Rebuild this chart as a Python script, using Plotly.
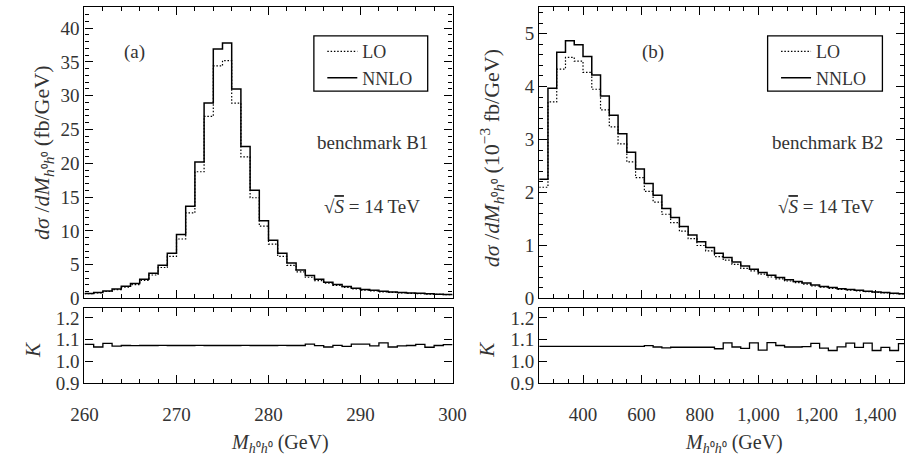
import plotly.graph_objects as go

# ---- panel (a): benchmark B1, 1 GeV bins from 260 to 300 GeV ----
a_edges = list(range(260, 301, 1))
a_nnlo = [0.75, 0.88, 1.11, 1.40, 1.79, 2.22, 2.85, 3.72, 4.92, 6.70,
          9.45, 13.65, 20.2, 28.9, 36.9, 37.8, 31.0, 22.5, 16.0, 11.5,
          8.63, 6.70, 5.26, 4.20, 3.38, 2.83, 2.40, 2.06, 1.77, 1.53,
          1.33, 1.20, 1.06, 0.97, 0.88, 0.82, 0.76, 0.69, 0.64, 0.59]
a_lo = [0.70, 0.83, 1.03, 1.30, 1.66, 2.06, 2.66, 3.47, 4.58, 6.23,
        8.80, 12.65, 18.75, 26.95, 34.4, 35.2, 28.9, 20.95, 14.9, 10.7,
        8.05, 6.24, 4.90, 3.92, 3.14, 2.63, 2.25, 1.92, 1.65, 1.42,
        1.24, 1.12, 0.99, 0.90, 0.82, 0.76, 0.71, 0.64, 0.60, 0.55]
a_k = [1.078, 1.066, 1.083, 1.070, 1.073, 1.072, 1.073, 1.073, 1.074, 1.073,
       1.073, 1.073, 1.074, 1.073, 1.073, 1.073, 1.073, 1.074, 1.073, 1.073,
       1.073, 1.074, 1.073, 1.073, 1.079, 1.072, 1.066, 1.074, 1.069, 1.079,
       1.079, 1.071, 1.085, 1.066, 1.071, 1.073, 1.078, 1.065, 1.073, 1.077]

# ---- panel (b): benchmark B2, 30 GeV bins starting at 250 GeV ----
b_edges = list(range(250, 1511, 30))
b_nnlo = [2.25, 3.97, 4.65, 4.865, 4.79, 4.57, 4.22, 3.82, 3.46, 3.11,
          2.76, 2.445, 2.17, 1.95, 1.70, 1.53, 1.36, 1.20, 1.07, 0.96,
          0.855, 0.775, 0.69, 0.615, 0.55, 0.49, 0.44, 0.395, 0.355, 0.32,
          0.29, 0.255, 0.228, 0.205, 0.185, 0.17, 0.155, 0.138, 0.124, 0.112,
          0.10, 0.09]
b_lo = [2.10, 3.71, 4.33, 4.55, 4.48, 4.27, 3.95, 3.56, 3.24, 2.92,
        2.58, 2.28, 2.02, 1.82, 1.59, 1.43, 1.27, 1.13, 1.00, 0.90,
        0.79, 0.725, 0.645, 0.57, 0.52, 0.46, 0.405, 0.37, 0.33, 0.30,
        0.27, 0.235, 0.213, 0.19, 0.172, 0.157, 0.144, 0.128, 0.115, 0.104,
        0.093, 0.084]
b_k = [1.069, 1.069, 1.069, 1.069, 1.069, 1.069, 1.069, 1.069, 1.069, 1.069,
       1.069, 1.069, 1.072, 1.066, 1.062, 1.065, 1.065, 1.065, 1.065, 1.065,
       1.058, 1.085, 1.066, 1.060, 1.085, 1.052, 1.086, 1.073, 1.066, 1.066,
       1.068, 1.083, 1.061, 1.050, 1.067, 1.084, 1.064, 1.084, 1.050, 1.064,
       1.050, 1.082]

W, H = 919, 465
FONT = "Liberation Serif"
TXT = "#333333"


def px(x):
    return x / W


def py(y):
    return 1 - y / H


def step(edges, vals):
    return list(edges), list(vals) + [vals[-1]]


def axis(**kw):
    d = dict(showline=True, linecolor="black", linewidth=1.3, mirror="allticks",
             ticks="inside", ticklen=8, tickwidth=1.1, tickcolor="black",
             showgrid=False, zeroline=False,
             tickfont=dict(family=FONT, size=19, color=TXT))
    d.update(kw)
    return d


def minor(dt):
    return dict(dtick=dt, ticks="inside", ticklen=4, tickwidth=1,
                tickcolor="black", showgrid=False)


fig = go.Figure()

LO_DASH = "1.5px,1.8px"

x, y = step(a_edges, a_lo)
fig.add_trace(go.Scatter(x=x, y=y, mode="lines", line_shape="hv", name="LO",
                         line=dict(color="black", width=1.2, dash=LO_DASH),
                         xaxis="x", yaxis="y", legend="legend"))
x, y = step(a_edges, a_nnlo)
fig.add_trace(go.Scatter(x=x, y=y, mode="lines", line_shape="hv", name="NNLO",
                         line=dict(color="black", width=1.5),
                         xaxis="x", yaxis="y", legend="legend"))
x, y = step(a_edges, a_k)
fig.add_trace(go.Scatter(x=x, y=y, mode="lines", line_shape="hv", showlegend=False,
                         line=dict(color="black", width=1.3),
                         xaxis="x2", yaxis="y2"))

x, y = step(b_edges, b_lo)
fig.add_trace(go.Scatter(x=x, y=y, mode="lines", line_shape="hv", name="LO",
                         line=dict(color="black", width=1.2, dash=LO_DASH),
                         xaxis="x3", yaxis="y3", legend="legend2"))
x, y = step(b_edges, b_nnlo)
fig.add_trace(go.Scatter(x=x, y=y, mode="lines", line_shape="hv", name="NNLO",
                         line=dict(color="black", width=1.5),
                         xaxis="x3", yaxis="y3", legend="legend2"))
x, y = step(b_edges, b_k)
fig.add_trace(go.Scatter(x=x, y=y, mode="lines", line_shape="hv", showlegend=False,
                         line=dict(color="black", width=1.3),
                         xaxis="x4", yaxis="y4"))

L_DOM = [px(72.7), px(452.3)]
R_DOM = [px(541.7), px(918.3)]
TOP_DOM = [py(305.7), py(7.3)]
BOT_DOM = [py(392.3), py(315.0)]

leg = dict(font=dict(family=FONT, size=18, color=TXT), bgcolor="rgba(0,0,0,0)",
           borderwidth=0, itemwidth=30, xanchor="left", yanchor="top",
           tracegroupgap=0)

fig.update_layout(
    width=W, height=H, autosize=False,
    margin=dict(l=0, r=0, t=0, b=0),
    paper_bgcolor="white", plot_bgcolor="white",
    showlegend=True,
    xaxis=axis(domain=L_DOM, range=[260, 300], tick0=260, dtick=10,
               showticklabels=False, minor=minor(2), anchor="y"),
    yaxis=axis(domain=TOP_DOM, range=[0, 43.1], tick0=0, dtick=5,
               minor=minor(1), anchor="x"),
    xaxis2=axis(domain=L_DOM, range=[260, 300], tick0=260, dtick=10,
                minor=minor(2), anchor="y2", ticklabelstandoff=14),
    yaxis2=axis(domain=BOT_DOM, range=[0.9, 1.248], tick0=0.9, dtick=0.1,
                tickformat=".1f", anchor="x2"),
    xaxis3=axis(domain=R_DOM, range=[250, 1500], tick0=200, dtick=200,
                showticklabels=False, minor=minor(50), anchor="y3"),
    yaxis3=axis(domain=TOP_DOM, range=[0, 5.5], tick0=0, dtick=1,
                minor=minor(0.2), anchor="x3"),
    xaxis4=axis(domain=R_DOM, range=[250, 1500], tick0=200, dtick=200,
                tickformat=",d", minor=minor(50), anchor="y4",
                ticklabelstandoff=14),
    yaxis4=axis(domain=BOT_DOM, range=[0.9, 1.248], tick0=0.9, dtick=0.1,
                tickformat=".1f", anchor="x4"),
    legend=dict(leg, x=px(318), y=py(34)),
    legend2=dict(leg, x=px(786), y=py(34)),
)

# legend frames
for x0, x1 in [(309.3, 426.7), (777.3, 895.7)]:
    fig.add_shape(type="rect", xref="paper", yref="paper",
                  x0=px(x0), x1=px(x1), y0=py(93.3), y1=py(36.7),
                  line=dict(color="black", width=1.3), fillcolor="rgba(0,0,0,0)")

HH = "<i>h</i>⁰<i>h</i>⁰"
texts = [
    ("(a)", 124, 53.3, 0, 19),
    ("(b)", 659, 53.3, 0, 19),
    ("benchmark B1", 370, 145.7, 0, 19),
    ("benchmark B2", 839.5, 145.7, 0, 19),
    ("√<span style='text-decoration:overline'><i>S</i></span> = 14 TeV", 369, 211, 0, 19),
    ("√<span style='text-decoration:overline'><i>S</i></span> = 14 TeV", 837.5, 211, 0, 19),
    ("<i>dσ</i> /<i>dM</i><sub>" + HH + "</sub> (fb/GeV)", 30, 156.5, -90, 22),
    ("<i>dσ</i> /<i>dM</i><sub>" + HH + "</sub> (10<sup>−3</sup> fb/GeV)", 492, 162, -90, 22),
    ("<i>K</i>", 19, 358, -90, 21),
    ("<i>K</i>", 487, 358, -90, 21),
    ("<i>M</i><sub>" + HH + "</sub> (GeV)", 274, 454, 0, 20),
    ("<i>M</i><sub>" + HH + "</sub> (GeV)", 743, 454, 0, 20),
]
for t, x0, y0, ang, sz in texts:
    fig.add_annotation(text=t, x=px(x0), y=py(y0), xref="paper", yref="paper",
                       xanchor="center", yanchor="middle", showarrow=False,
                       textangle=ang, font=dict(family=FONT, size=sz, color=TXT))

fig.write_html("out.html")
